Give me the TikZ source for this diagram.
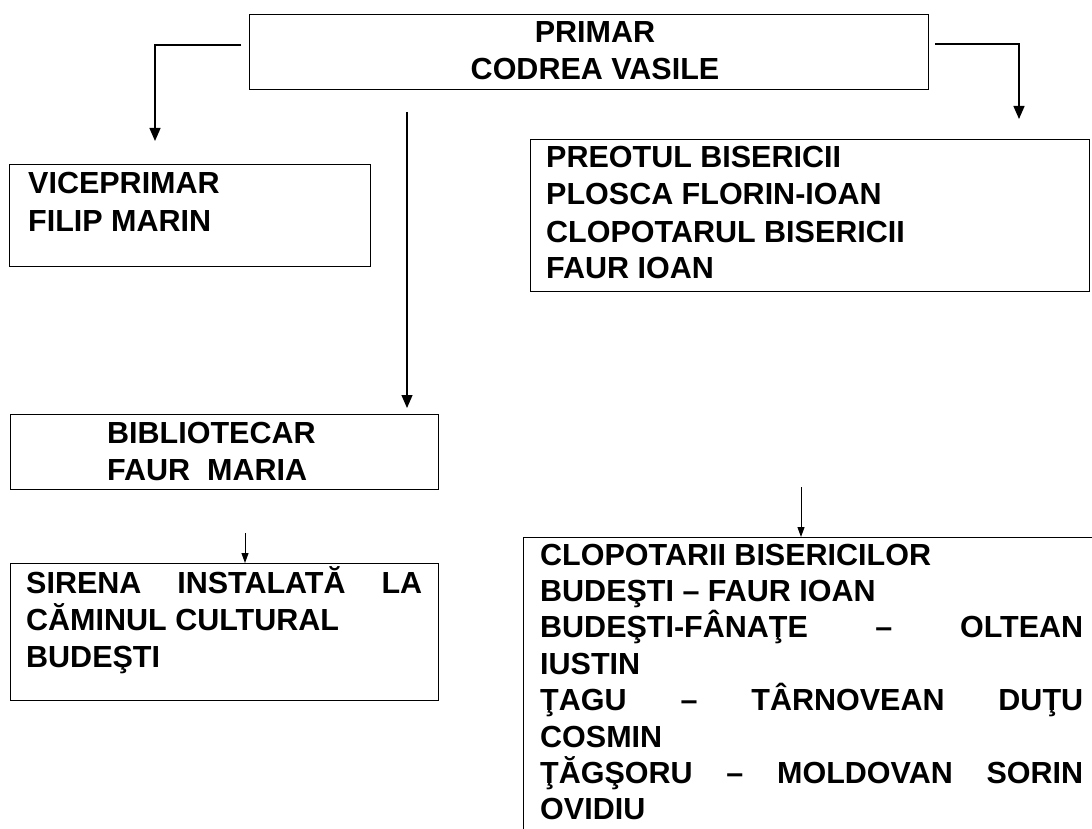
\documentclass[tikz,border=0pt]{standalone}
\usepackage{fontspec}
\setmainfont{Liberation Sans}
\usetikzlibrary{arrows.meta}
\begin{document}
\begin{tikzpicture}[x=1pt,y=-1pt,
  box/.style={draw=black, line width=1.2pt, rectangle, inner sep=0pt, anchor=north west},
  txt/.style={inner sep=0pt, anchor=base west, font=\fontsize{30.5}{37}\selectfont\bfseries},
  conn/.style={line width=1.3pt, -{Triangle[width=11pt,length=13pt]}},
  smallconn/.style={line width=1pt, -{Triangle[width=7pt,length=10pt]}}]
\useasboundingbox (0,0) rectangle (1092,829);
\clip (0,0) rectangle (1092,829);
% boxes
\node[box, minimum width=679pt, minimum height=75pt] (primar) at (249,14) {};
\node[box, minimum width=361pt, minimum height=102pt] (vice) at (9,164) {};
\node[box, minimum width=559pt, minimum height=152pt] (preot) at (530,139) {};
\node[box, minimum width=428pt, minimum height=75pt] (bib) at (10,414) {};
\node[box, minimum width=428pt, minimum height=137pt] (sirena) at (10,563) {};
\node[box, minimum width=600pt, minimum height=400pt] (clop) at (523,537) {};
% texts
\node[txt, anchor=base] (tprimar) at (595,43) {\parbox[t]{500pt}{\centering PRIMAR\\CODREA VASILE}};
\node[txt] (tvice) at (28,194) {\parbox[t]{330pt}{VICEPRIMAR\\FILIP MARIN}};
\node[txt] (tpreot) at (546,168) {\parbox[t]{530pt}{PREOTUL BISERICII\\PLOSCA FLORIN-IOAN\\CLOPOTARUL BISERICII\\FAUR IOAN}};
\node[txt] (tbib) at (107,443) {\parbox[t]{320pt}{BIBLIOTECAR\\FAUR\ \ MARIA}};
\node[txt] (tsirena) at (26,593) {\parbox[t]{396pt}{SIRENA\hfill INSTALATĂ\hfill LA\\CĂMINUL CULTURAL\\BUDEŞTI}};
\node[txt] (tclop) at (540,565) {\parbox[t]{543pt}{\fontsize{30.5}{36.4}\selectfont CLOPOTARII BISERICILOR\\
BUDEŞTI – FAUR IOAN\\
BUDEŞTI-FÂNAŢE\hfill –\hfill OLTEAN\\
IUSTIN\\
ŢAGU\hfill –\hfill TÂRNOVEAN\hfill DUŢU\\
COSMIN\\
ŢĂGŞORU\hfill –\hfill MOLDOVAN\hfill SORIN\\
OVIDIU}};
% connectors
\coordinate (ls) at (241,45);
\coordinate (le) at (155,141);
\draw[conn] (ls) -| (le);
\coordinate (rs) at (935,44);
\coordinate (re) at (1019,119);
\draw[conn] (rs) -| (re);
\coordinate (ms) at (407,112);
\draw[conn] (ms) -- ([yshift=6pt]bib.north -| ms);
\coordinate (ss) at (245,533);
\draw[smallconn] (ss) -- (sirena.north -| ss);
\coordinate (cs) at (801,487);
\draw[smallconn] (cs) -- (clop.north -| cs);
\end{tikzpicture}
\end{document}
